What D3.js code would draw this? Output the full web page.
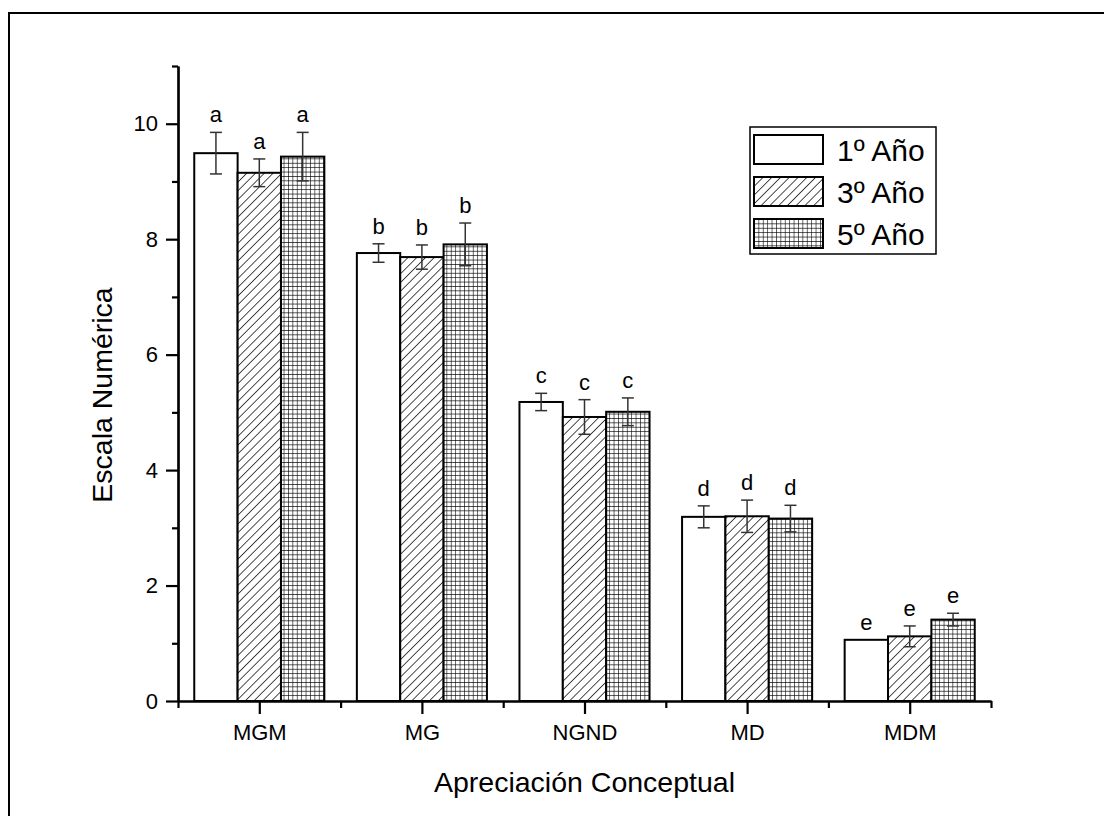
<!DOCTYPE html>
<html>
<head>
<meta charset="utf-8">
<script src="https://cdn.jsdelivr.net/npm/d3@7"></script>
<style>
  body { margin: 0; background: #fff; }
  text { font-family: "Liberation Sans", Arial, sans-serif; fill: #000; }
</style>
</head>
<body>
<div id="chart"></div>
<script>
var categories = ["MGM", "MG", "NGND", "MD", "MDM"];
var seriesNames = ["1º Año", "3º Año", "5º Año"];
var year1 = [9.49, 7.76, 5.18, 3.19, 1.06];
var year3 = [9.15, 7.69, 4.92, 3.20, 1.12];
var year5 = [9.43, 7.91, 5.01, 3.16, 1.41];
var err1 = [0.36, 0.16, 0.15, 0.19, 0];
var err3 = [0.24, 0.21, 0.30, 0.28, 0.18];
var err5 = [0.42, 0.37, 0.24, 0.23, 0.11];
var letters = ["a", "b", "c", "d", "e"];
var yMajor = [0, 2, 4, 6, 8, 10];
var yMinor = [1, 3, 5, 7, 9, 11];

var W = 1104, H = 816;
var margin = { top: 66, right: 113, bottom: 115, left: 178 };
var width = W - margin.left - margin.right;
var height = H - margin.top - margin.bottom;

var svg = d3.select("#chart").append("svg")
    .attr("width", W)
    .attr("height", H);

// fill patterns for 3º and 5º
var defs = svg.append("defs");
var diag = defs.append("pattern")
    .attr("id", "diag")
    .attr("patternUnits", "userSpaceOnUse")
    .attr("width", 6.2).attr("height", 6.2)
    .attr("patternTransform", "rotate(45)");
diag.append("rect").attr("width", 6.2).attr("height", 6.2).attr("fill", "#fff");
diag.append("line").attr("x1", 0).attr("y1", 0).attr("x2", 0).attr("y2", 6.2)
    .attr("stroke", "#000").attr("stroke-width", 1.4);

var grid = defs.append("pattern")
    .attr("id", "grid")
    .attr("patternUnits", "userSpaceOnUse")
    .attr("width", 4.4).attr("height", 4.4);
grid.append("rect").attr("width", 4.4).attr("height", 4.4).attr("fill", "#fff");
grid.append("path").attr("d", "M0,0V4.4M0,0H4.4")
    .attr("stroke", "#000").attr("stroke-width", 1.2);

var fills = ["#fff", "url(#diag)", "url(#grid)"];

// outer frame
svg.append("rect")
    .attr("x", 9).attr("y", 13)
    .attr("width", 1300).attr("height", 1000)
    .attr("fill", "none").attr("stroke", "#000").attr("stroke-width", 2);

var g = svg.append("g")
    .attr("transform", "translate(" + margin.left + "," + margin.top + ")");

var x = d3.scaleLinear().domain([0.5, 5.5]).range([0, width]);
var y = d3.scaleLinear().domain([0, 11]).range([height, 0]);
var inner = d3.scaleBand().domain([0, 1, 2])
    .range([-width / 5 * 0.4, width / 5 * 0.4]);

var data = [];
categories.forEach(function(c, i) {
    [year1, year3, year5].forEach(function(s, j) {
        var e = [err1, err3, err5][j][i];
        data.push({ cat: i + 1, s: j, v: s[i], e: e, letter: letters[i] });
    });
});

function cx(d) { return x(d.cat) + inner(d.s) + inner.bandwidth() / 2; }

// bars
g.selectAll("rect.bar").data(data).enter().append("rect")
    .attr("class", "bar")
    .attr("x", function(d) { return x(d.cat) + inner(d.s); })
    .attr("y", function(d) { return y(d.v); })
    .attr("width", inner.bandwidth())
    .attr("height", function(d) { return y(0) - y(d.v); })
    .attr("fill", function(d) { return fills[d.s]; })
    .attr("stroke", "#000")
    .attr("stroke-width", 2);

// error bars
var eb = g.selectAll("g.err").data(data.filter(function(d) { return d.e > 0; }))
    .enter().append("g").attr("class", "err")
    .attr("stroke", "#333").attr("stroke-width", 1.5);
eb.append("line")
    .attr("x1", cx).attr("x2", cx)
    .attr("y1", function(d) { return y(d.v + d.e); })
    .attr("y2", function(d) { return y(d.v - d.e); });
[1, -1].forEach(function(sign) {
    eb.append("line")
        .attr("x1", function(d) { return cx(d) - 6; })
        .attr("x2", function(d) { return cx(d) + 6; })
        .attr("y1", function(d) { return y(d.v + sign * d.e); })
        .attr("y2", function(d) { return y(d.v + sign * d.e); });
});

// significance letters
g.selectAll("text.letter").data(data).enter().append("text")
    .attr("class", "letter")
    .attr("x", cx)
    .attr("y", function(d) { return y(d.v + d.e) - 10; })
    .attr("text-anchor", "middle")
    .style("font-size", "22px")
    .text(function(d) { return d.letter; });

// axes
function styleAxis(sel) {
    sel.select(".domain").attr("stroke", "#000").attr("stroke-width", 2.2);
    sel.selectAll(".tick line").attr("stroke", "#000").attr("stroke-width", 2.2);
    sel.selectAll(".tick text").style("font-size", "22px")
        .style("font-family", "'Liberation Sans', Arial, sans-serif").attr("fill", "#000");
}

var yAxisMinor = g.append("g")
    .call(d3.axisLeft(y).tickValues(yMinor).tickSize(6).tickFormat("").tickSizeOuter(0));
styleAxis(yAxisMinor);
var yAxis = g.append("g")
    .call(d3.axisLeft(y).tickValues(yMajor).tickSize(12).tickPadding(8).tickSizeOuter(0));
styleAxis(yAxis);

var xAxisMinor = g.append("g")
    .attr("transform", "translate(0," + height + ")")
    .call(d3.axisBottom(x).tickValues([0.5, 1.5, 2.5, 3.5, 4.5, 5.5]).tickSize(7).tickFormat("").tickSizeOuter(0));
styleAxis(xAxisMinor);
var xAxis = g.append("g")
    .attr("transform", "translate(0," + height + ")")
    .call(d3.axisBottom(x).tickValues([1, 2, 3, 4, 5]).tickSize(13).tickPadding(10)
        .tickFormat(function(d) { return categories[d - 1]; }).tickSizeOuter(0));
styleAxis(xAxis);

// axis titles
svg.append("text")
    .attr("x", margin.left + width / 2)
    .attr("y", 792)
    .attr("text-anchor", "middle")
    .style("font-size", "28.5px")
    .text("Apreciación Conceptual");

svg.append("text")
    .attr("transform", "translate(112,395) rotate(-90)")
    .attr("text-anchor", "middle")
    .style("font-size", "28.5px")
    .text("Escala Numérica");

// legend
var legend = svg.append("g").attr("transform", "translate(750,127)");
legend.append("rect")
    .attr("width", 186).attr("height", 127)
    .attr("fill", "#fff").attr("stroke", "#000").attr("stroke-width", 1.5);
var items = legend.selectAll("g.item").data(seriesNames).enter().append("g")
    .attr("class", "item")
    .attr("transform", function(d, i) { return "translate(4," + (8 + i * 42) + ")"; });
items.append("rect")
    .attr("width", 69).attr("height", 29)
    .attr("fill", function(d, i) { return fills[i]; })
    .attr("stroke", "#000").attr("stroke-width", 2);
items.append("text")
    .attr("x", 83).attr("y", 26)
    .style("font-size", "30px")
    .text(function(d) { return d; });
</script>
</body>
</html>
